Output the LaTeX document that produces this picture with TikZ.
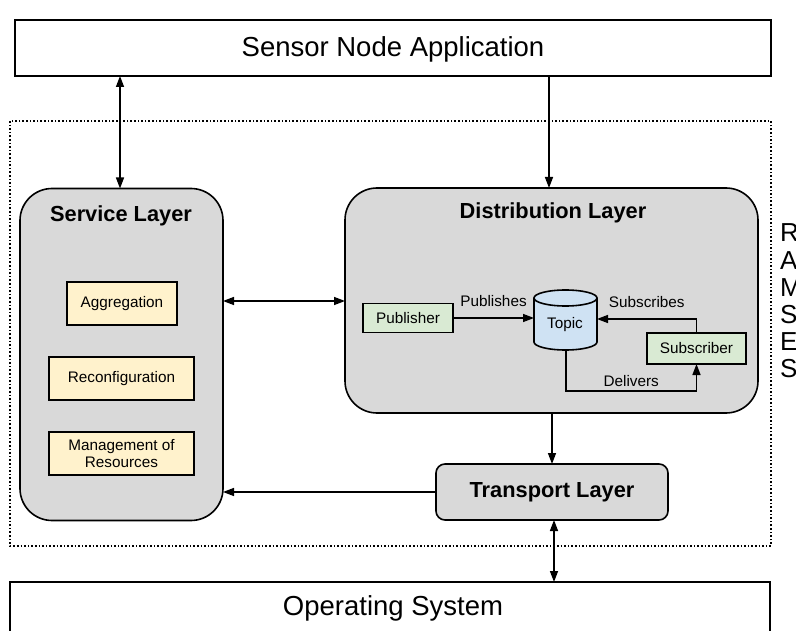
\documentclass[tikz,border=0pt]{standalone}
\usepackage{fontspec}
\setmainfont{Liberation Sans}
\usetikzlibrary{arrows.meta}
\definecolor{layergray}{HTML}{D9D9D9}
\definecolor{svcyellow}{HTML}{FFF2CC}
\definecolor{pubgreen}{HTML}{D9EAD3}
\definecolor{topicblue}{HTML}{CFE2F3}
\tikzset{
  every node/.style={inner sep=0pt, outer sep=0pt},
  plainbox/.style={draw, line width=1.6pt, fill=white},
  layerbox/.style={draw, line width=1.6pt, fill=layergray, rounded corners=32pt},
  smallbox/.style={draw, line width=1.6pt, fill=svcyellow},
  pubbox/.style={draw, line width=1.6pt, fill=pubgreen},
  conn/.style={line width=1.4pt, -{Triangle[length=11pt,width=8pt]}},
  biconn/.style={line width=1.4pt, {Triangle[length=11pt,width=8pt]}-{Triangle[length=11pt,width=8pt]}},
  lbl/.style={font=\fontsize{15.3}{17}\selectfont},
  bigtxt/.style={font=\fontsize{27.5}{30}\selectfont},
  titletxt/.style={font=\bfseries\fontsize{21.8}{24}\selectfont},
}
\begin{document}
\begin{tikzpicture}[x=1pt,y=-1pt]
\useasboundingbox (0,0) rectangle (796,631);
\clip (0,0) rectangle (796,631);

% outer boxes
\node[plainbox, minimum width=756pt, minimum height=56pt] (app) at (393,48) {};
\node[bigtxt] (apptext) at (393,49) {Sensor Node Application};
\node[plainbox, minimum width=760pt, minimum height=80pt] (os) at (390,622) {};
\node[bigtxt] (ostext) at (393,608) {Operating System};

% dotted middleware frame
\draw[line width=1.6pt, dotted] (10,121) rectangle (771,546);

% side label
\node[font=\fontsize{26}{27.2}\selectfont, align=left, anchor=north west] (ramses) at (780,224)
  {R\\A\\M\\S\\E\\S};

% service layer
\node[layerbox, minimum width=203pt, minimum height=332pt] (svc) at (121.5,354.5) {};
\node[titletxt] (svct) at (121,216) {Service Layer};
\node[smallbox, minimum width=110pt, minimum height=43pt, lbl] (agg) at (122,303.5) {Aggregation};
\node[smallbox, minimum width=145pt, minimum height=43pt, lbl] (rec) at (121.5,378.5) {Reconfiguration};
\node[smallbox, minimum width=145pt, minimum height=43pt, lbl, align=center] (mgmt) at (121.5,453.5) {Management of\\Resources};

% distribution layer
\node[layerbox, minimum width=413pt, minimum height=225pt] (dist) at (551.5,300.5) {};
\node[titletxt] (distt) at (553,213) {Distribution Layer};

\node[pubbox, minimum width=90pt, minimum height=29pt, lbl] (pub) at (408,318) {Publisher};
\node[pubbox, minimum width=99pt, minimum height=31pt, lbl] (sub) at (696.5,348.5) {Subscriber};

% topic cylinder
\node[minimum width=63pt, minimum height=60pt] (topic) at (565.5,320) {};
\fill[topicblue] (534,298) -- (534,342) arc[start angle=180, end angle=360, x radius=31.5pt, y radius=8pt]
  -- (597,298) arc[start angle=0, end angle=180, x radius=31.5pt, y radius=8pt] -- cycle;
\draw[line width=1.6pt] (534,298) -- (534,342) arc[start angle=180, end angle=360, x radius=31.5pt, y radius=8pt]
  -- (597,298);
\draw[line width=1.6pt] (565.5,298) ellipse[x radius=31.5pt, y radius=8pt];
\node[lbl] (topict) at (565,325) {Topic};

% transport layer
\node[draw, line width=1.6pt, fill=layergray, rounded corners=9pt, minimum width=232pt, minimum height=56pt,
      titletxt] (trans) at (552,492) {Transport Layer};

% connectors between layers
\draw[biconn] (app.south -| 120,0) -- (svc.north -| 120,0);
\draw[conn] (app.south -| 549,0) -- (dist.north -| 549,0);
\draw[biconn] (svc.east |- 0,301) -- (dist.west |- 0,301);
\draw[conn] (dist.south -| 552,0) -- (trans.north -| 552,0);
\draw[conn] (trans.west) -- (svc.east |- trans.west);
\draw[biconn] (trans.south -| 554,0) -- (os.north -| 554,0);

% publish / subscribe flow
\draw[conn] (pub.east) -- (topic.west |- pub.east) node[midway, above=11pt, lbl] (publbl) {Publishes};
\draw[conn] (sub.north) |- (topic.east |- 0,319) node[pos=0.75, above=11pt, lbl] (sublbl) {Subscribes};
\coordinate (dlvturn) at (566,391);
\draw[conn] (topic.south -| dlvturn) -- (dlvturn) -| (sub.south) node[pos=0.25, above=4pt, lbl] (dlvlbl) {Delivers};
\end{tikzpicture}
\end{document}
